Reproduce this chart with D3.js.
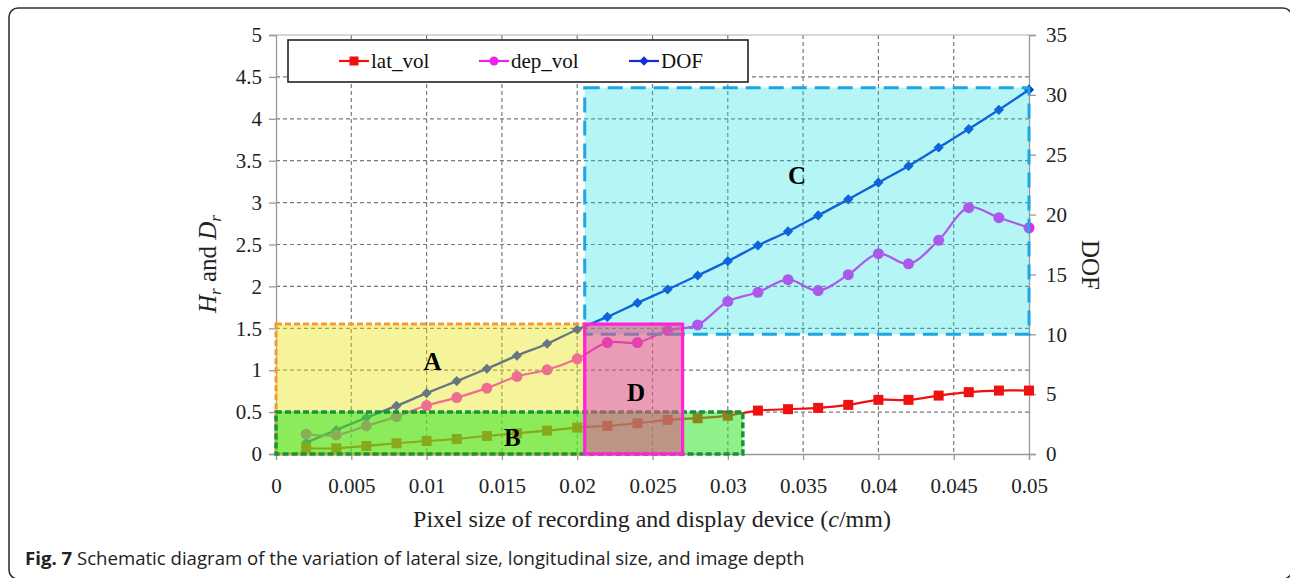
<!DOCTYPE html>
<html>
<head>
<meta charset="utf-8">
<script src="https://cdn.jsdelivr.net/npm/d3@7"></script>
<style>
  html, body { margin: 0; padding: 0; background: #fff; }
  svg { display: block; }
</style>
</head>
<body>
<svg id="chart" width="1290" height="578"></svg>
<script>
// Pixel size c (mm)
const pixelSize = [0.002, 0.004, 0.006, 0.008, 0.010, 0.012, 0.014, 0.016, 0.018, 0.020,
                   0.022, 0.024, 0.026, 0.028, 0.030, 0.032, 0.034, 0.036, 0.038, 0.040,
                   0.042, 0.044, 0.046, 0.048, 0.050];
// Lateral size ratio H_r (left axis)
const latVol = [0.068, 0.068, 0.096, 0.128, 0.155, 0.179, 0.215, 0.247, 0.279, 0.315,
                0.335, 0.367, 0.407, 0.427, 0.458, 0.518, 0.535, 0.550, 0.586, 0.646,
                0.646, 0.697, 0.738, 0.757, 0.757];
// Longitudinal size ratio D_r (left axis)
const depVol = [0.236, 0.227, 0.335, 0.446, 0.578, 0.673, 0.786, 0.925, 1.005, 1.136,
                1.330, 1.330, 1.475, 1.540, 1.820, 1.930, 2.080, 1.950, 2.140, 2.390,
                2.270, 2.550, 2.940, 2.820, 2.700];
// Image depth (right axis)
const dof = [0.95, 2.00, 3.04, 4.02, 5.08, 6.09, 7.12, 8.21, 9.21, 10.40,
             11.45, 12.62, 13.74, 14.91, 16.11, 17.42, 18.59, 19.93, 21.27, 22.67,
             24.06, 25.60, 27.14, 28.75, 30.43];

const xTicks = [0, 0.005, 0.01, 0.015, 0.02, 0.025, 0.03, 0.035, 0.04, 0.045, 0.05];
const leftTicks = [0, 0.5, 1, 1.5, 2, 2.5, 3, 3.5, 4, 4.5, 5];
const rightTicks = [0, 5, 10, 15, 20, 25, 30, 35];

// Highlighted zones: [x0, x1] in mm, [y0, y1] in axis units
const zoneA = { name: "A", x: [0, 0.0205], y: [0, 1.55], axis: "left" };
const zoneB = { name: "B", x: [0, 0.031], y: [0, 0.5], axis: "left" };
const zoneC = { name: "C", x: [0.0205, 0.05], y: [10, 30.6], axis: "right" };
const zoneD = { name: "D", x: [0.0205, 0.027], y: [0, 1.55], axis: "left" };

const svg = d3.select("#chart");
const serif = "'Liberation Serif', 'Times New Roman', serif";

const x = d3.scaleLinear().domain([0, 0.05]).range([276, 1029]);
const yL = d3.scaleLinear().domain([0, 5]).range([454, 35]);
const yR = d3.scaleLinear().domain([0, 35]).range([454, 35]);

// Outer figure frame
svg.append("rect")
  .attr("x", 9).attr("y", 8).attr("width", 1283).attr("height", 571)
  .attr("rx", 9).attr("ry", 9)
  .attr("fill", "none").attr("stroke", "#333").attr("stroke-width", 1.6);

// Grid
const grid = svg.append("g");
grid.selectAll("line.v").data(xTicks.slice(1, -1)).join("line")
  .attr("x1", d => x(d)).attr("x2", d => x(d))
  .attr("y1", yL(5)).attr("y2", yL(0))
  .attr("stroke", "#7a7a7a").attr("stroke-width", 1.2).attr("stroke-dasharray", "4,3");
grid.selectAll("line.h").data(leftTicks.slice(1, -1)).join("line")
  .attr("x1", x(0)).attr("x2", x(0.05))
  .attr("y1", d => yL(d)).attr("y2", d => yL(d))
  .attr("stroke", "#7a7a7a").attr("stroke-width", 1.2).attr("stroke-dasharray", "4,3");
grid.append("line")
  .attr("x1", x(0)).attr("x2", x(0.05)).attr("y1", yL(5)).attr("y2", yL(5))
  .attr("stroke", "#b0b0b0").attr("stroke-width", 1.2);

// Axes
const axisColor = "#999";
const gx = svg.append("g").attr("transform", `translate(0,${yL(0)})`)
  .call(d3.axisBottom(x).tickValues(xTicks).tickFormat(d => d3.format("")(+d.toFixed(3))).tickSize(6).tickPadding(18));
const gl = svg.append("g").attr("transform", `translate(${x(0)},0)`)
  .call(d3.axisLeft(yL).tickValues(leftTicks).tickFormat(d => String(d)).tickSize(7).tickPadding(7));
const gr = svg.append("g").attr("transform", `translate(${x(0.05)},0)`)
  .call(d3.axisRight(yR).tickValues(rightTicks).tickFormat(d => String(d)).tickSize(7).tickPadding(10));
[gx, gl, gr].forEach(g => {
  g.select(".domain").attr("stroke", axisColor).attr("stroke-width", 1.3);
  g.selectAll(".tick line").attr("stroke", axisColor).attr("stroke-width", 1.3);
  g.selectAll(".tick text").attr("fill", "#222").style("font-family", serif).style("font-size", "21px");
});

// Series lines and markers
const lineL = d3.line().x((d, i) => x(pixelSize[i])).y(d => yL(d)).curve(d3.curveCatmullRom.alpha(0.5));
const lineR = d3.line().x((d, i) => x(pixelSize[i])).y(d => yR(d)).curve(d3.curveCatmullRom.alpha(0.5));

const red = "#f01010", magenta = "#f020f0", blue = "#1030d8";

svg.append("path").datum(dof).attr("d", lineR)
  .attr("fill", "none").attr("stroke", blue).attr("stroke-width", 2.4);
svg.append("g").selectAll("path").data(dof).join("path")
  .attr("transform", (d, i) => `translate(${x(pixelSize[i])},${yR(d)}) rotate(45)`)
  .attr("d", "M-3.6,-3.6H3.6V3.6H-3.6Z").attr("fill", blue);

svg.append("path").datum(depVol).attr("d", lineL)
  .attr("fill", "none").attr("stroke", magenta).attr("stroke-width", 2.2);
svg.append("g").selectAll("circle").data(depVol).join("circle")
  .attr("cx", (d, i) => x(pixelSize[i])).attr("cy", d => yL(d)).attr("r", 5.5)
  .attr("fill", magenta);

svg.append("path").datum(latVol).attr("d", lineL)
  .attr("fill", "none").attr("stroke", red).attr("stroke-width", 2.2);
svg.append("g").selectAll("rect").data(latVol).join("rect")
  .attr("x", (d, i) => x(pixelSize[i]) - 5).attr("y", d => yL(d) - 5)
  .attr("width", 10).attr("height", 10).attr("fill", red);

// Translucent zones drawn over the curves
function zone(z, fill, opacity, stroke, width, dash) {
  const ys = z.axis === "left" ? yL : yR;
  const g = svg.append("g");
  g.append("rect")
    .attr("x", x(z.x[0])).attr("y", ys(z.y[1]))
    .attr("width", x(z.x[1]) - x(z.x[0])).attr("height", ys(z.y[0]) - ys(z.y[1]))
    .attr("fill", fill).attr("fill-opacity", opacity)
    .attr("stroke", stroke).attr("stroke-width", width)
    .attr("stroke-dasharray", dash);
  return g;
}
zone(zoneC, "#0cdede", 0.3, "#1ea6e2", 3, "15,8");
zone(zoneA, "#e8e302", 0.4, "#f59a30", 3, "6,3");
zone(zoneB, "#34e428", 0.55, "#15953a", 3.5, "6,3");
zone(zoneD, "#dc5884", 0.6, "#ff22d8", 3.2, null);

// Zone letters
const letters = [
  { t: "A", x: 0.0104, y: 1.0, axis: "left" },
  { t: "B", x: 0.0157, y: 0.1, axis: "left" },
  { t: "C", x: 0.0346, y: 3.22, axis: "left" },
  { t: "D", x: 0.0239, y: 0.63, axis: "left" }
];
svg.append("g").selectAll("text").data(letters).join("text")
  .attr("x", d => x(d.x)).attr("y", d => yL(d.y))
  .attr("text-anchor", "middle")
  .style("font-family", serif).style("font-weight", "bold").style("font-size", "25px")
  .attr("fill", "#000").text(d => d.t);

// Legend
const lg = svg.append("g");
lg.append("rect").attr("x", 288).attr("y", 40).attr("width", 460).attr("height", 42)
  .attr("fill", "#fff").attr("stroke", "#222").attr("stroke-width", 1.6);
const legendItems = [
  { name: "lat_vol", color: red, shape: "square", x0: 339 },
  { name: "dep_vol", color: magenta, shape: "circle", x0: 479 },
  { name: "DOF", color: blue, shape: "diamond", x0: 629 }
];
legendItems.forEach(it => {
  const cy = 61;
  lg.append("line").attr("x1", it.x0).attr("x2", it.x0 + 30).attr("y1", cy).attr("y2", cy)
    .attr("stroke", it.color).attr("stroke-width", 2.2);
  const cx = it.x0 + 15;
  if (it.shape === "square") {
    lg.append("rect").attr("x", cx - 4.5).attr("y", cy - 4.5).attr("width", 9).attr("height", 9).attr("fill", it.color);
  } else if (it.shape === "circle") {
    lg.append("circle").attr("cx", cx).attr("cy", cy).attr("r", 4.5).attr("fill", it.color);
  } else {
    lg.append("path").attr("transform", `translate(${cx},${cy}) rotate(45)`)
      .attr("d", "M-3.3,-3.3H3.3V3.3H-3.3Z").attr("fill", it.color);
  }
  lg.append("text").attr("x", it.x0 + 32).attr("y", cy + 7)
    .style("font-family", serif).style("font-size", "21px").attr("fill", "#111").text(it.name);
});

// Axis titles
const xt = svg.append("text").attr("x", 652).attr("y", 527).attr("text-anchor", "middle")
  .style("font-family", serif).style("font-size", "24px").attr("fill", "#222");
xt.append("tspan").text("Pixel size of recording and display device (");
xt.append("tspan").style("font-style", "italic").text("c");
xt.append("tspan").text("/mm)");

const ytl = svg.append("text").attr("transform", "translate(216,264) rotate(-90)")
  .attr("text-anchor", "middle")
  .style("font-family", serif).style("font-size", "25px").attr("fill", "#222");
ytl.append("tspan").style("font-style", "italic").text("H");
ytl.append("tspan").style("font-style", "italic").style("font-size", "17px").attr("dy", 5).text("r");
ytl.append("tspan").attr("dy", -5).text(" and ");
ytl.append("tspan").style("font-style", "italic").text("D");
ytl.append("tspan").style("font-style", "italic").style("font-size", "17px").attr("dy", 5).text("r");

svg.append("text").attr("transform", "translate(1082,265) rotate(90)")
  .attr("text-anchor", "middle")
  .style("font-family", serif).style("font-size", "25px").attr("fill", "#222").text("DOF");

// Caption
const cap = svg.append("text").attr("x", 25).attr("y", 565)
  .style("font-family", "'Open Sans', 'Noto Sans', sans-serif").style("font-size", "18.6px").attr("fill", "#222");
cap.append("tspan").style("font-weight", "bold").text("Fig. 7");
cap.append("tspan").text(" Schematic diagram of the variation of lateral size, longitudinal size, and image depth");
</script>
</body>
</html>
